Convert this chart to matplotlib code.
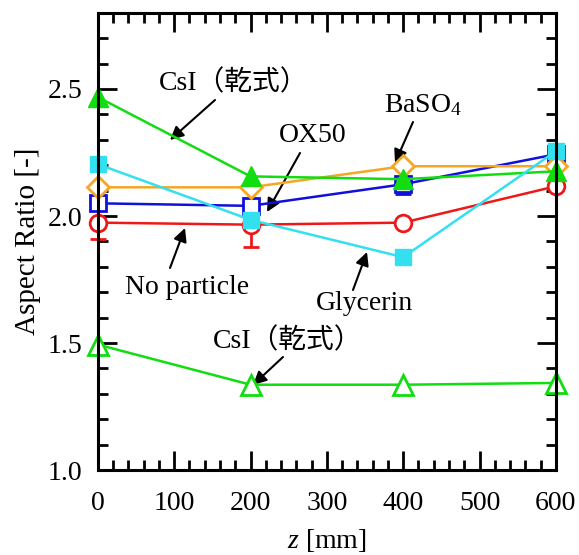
import matplotlib
matplotlib.use("Agg")
import matplotlib.pyplot as plt
from matplotlib.ticker import MultipleLocator

plt.rcParams["font.family"] = ["Liberation Serif", "Noto Sans CJK JP"]
plt.rcParams["mathtext.fontset"] = "custom"
plt.rcParams["mathtext.rm"] = "Liberation Serif"
plt.rcParams["mathtext.it"] = "Liberation Serif:italic"

z = [0, 200, 400, 600]
no_particle = [1.974, 1.966, 1.974, 2.117]
no_particle_err = [0.064, 0.089, 0.0, 0.0]
ox50 = [2.050, 2.040, 2.125, 2.243]
ox50_err = [0.0, 0.0, 0.040, 0.0]
baso4 = [2.113, 2.113, 2.196, 2.196]
csi_dry_a = [2.468, 2.156, 2.145, 2.176]
glycerin = [2.204, 1.985, 1.838, 2.255]
csi_dry_b = [1.494, 1.336, 1.336, 1.343]

GREEN = "#11dd11"
ORANGE = "#f5a623"
BLUE = "#1010dd"
RED = "#ee1818"
CYAN = "#33e0f0"

fig = plt.figure(figsize=(5.79, 5.55), dpi=100)
ax = fig.add_axes([0.169, 0.153, 0.791, 0.824])

lw = 1.8
ms = 12
ax.errorbar(z, no_particle, yerr=[no_particle_err, [0] * 4], color=RED, lw=lw, clip_on=False,
            marker="o", ms=ms, mfc="white", mec=RED, mew=2, capsize=6, capthick=2, elinewidth=2,
            zorder=2)
ax.errorbar(z, ox50, yerr=[ox50_err, [0] * 4], color=BLUE, lw=lw, clip_on=False,
            marker="s", ms=ms - 1, mfc="white", mec=BLUE, mew=2, capsize=6, capthick=2, elinewidth=2,
            zorder=3)
ax.plot(z, baso4, color=ORANGE, lw=lw, marker="D", ms=ms - 1, mfc="white", mec=ORANGE, mew=2,
        clip_on=False, zorder=4)
ax.plot(z, csi_dry_a, color=GREEN, lw=lw, marker="^", ms=ms + 2, mfc=GREEN, mec=GREEN,
        clip_on=False, zorder=5)
ax.plot(z, glycerin, color=CYAN, lw=lw, marker="s", ms=ms, mfc=CYAN, mec=CYAN, clip_on=False,
        zorder=6)
ax.plot(z, csi_dry_b, color=GREEN, lw=lw, marker="^", ms=ms + 2, mfc="white", mec=GREEN, mew=2,
        clip_on=False, zorder=5)

ax.set_xlim(0, 600)
ax.set_ylim(1.0, 2.8)
ax.xaxis.set_major_locator(MultipleLocator(100))
ax.xaxis.set_minor_locator(MultipleLocator(20))
ax.yaxis.set_major_locator(MultipleLocator(0.5))
ax.yaxis.set_minor_locator(MultipleLocator(0.1))
ax.yaxis.set_major_formatter(plt.FormatStrFormatter("%.1f"))
ax.tick_params(which="both", direction="in", top=True, right=True, width=2, labelsize=20)
ax.tick_params(which="major", length=14)
ax.tick_params(which="minor", length=7)
ax.tick_params(axis="x", which="major", pad=15)
ax.tick_params(axis="y", which="major", pad=11)
for s in ax.spines.values():
    s.set_linewidth(2.2)
    s.set_zorder(7)

ax.set_xlabel("$z$ [mm]", fontsize=20, labelpad=8)
ax.set_ylabel("Aspect Ratio [-]", fontsize=21, labelpad=5)


def px(x, y):
    # figure pixel coordinates (from top-left) to figure fraction
    return (x / 579, 1 - y / 555)


arrow = dict(arrowstyle="-|>", color="black", lw=1.5, mutation_scale=20, shrinkA=0, shrinkB=0)
notes = [
    ("CsI（乾式）", (234, 83), (215, 100), (170, 140)),
    ("BaSO$_4$", (423, 105), (413, 122), (395, 163)),
    ("OX50", (313, 135), (300, 153), (267, 212)),
    ("No particle", (187, 287), (170, 268), (185, 228)),
    ("Glycerin", (365, 304), (353, 290), (367, 252)),
    ("CsI（乾式）", (288, 341), (283, 357), (253, 385)),
]
for label, tpos, tail, head in notes:
    fig.text(*px(*tpos), label, fontsize=20, ha="center", va="center")
    ax.annotate("", xy=px(*head), xycoords="figure fraction",
                xytext=px(*tail), textcoords="figure fraction", arrowprops=arrow)

fig.savefig("out.png", dpi=100)
